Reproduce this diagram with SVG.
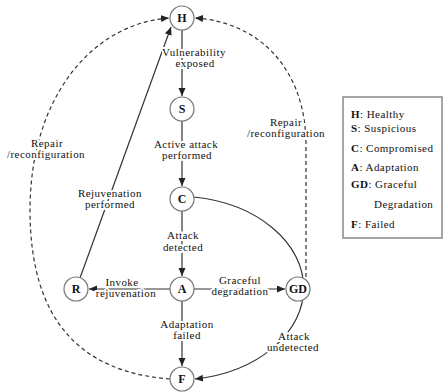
<svg xmlns="http://www.w3.org/2000/svg" width="444" height="392" viewBox="0 0 444 392" font-family="'Liberation Serif', 'Times New Roman', serif">
  <defs>
    <marker id="arrow" markerUnits="userSpaceOnUse" markerWidth="9" markerHeight="8" refX="8" refY="3.5" orient="auto">
      <path d="M0,0 L8,3.5 L0,7 z" fill="#222"/>
    </marker>
    <style>
      text { font-family: 'Liberation Serif', 'Times New Roman', serif; }
      .edge { fill: none; stroke: #333; stroke-width: 1.2; }
      .dash { stroke-dasharray: 4 3; }
      .node circle { fill: #fff; stroke: #777; stroke-width: 1.2; }
      .node text { font-size: 12px; font-weight: bold; text-anchor: middle; fill: #111; }
      .lbl { font-size: 11px; letter-spacing: 0.45px; text-anchor: middle; fill: #111; stroke: #fff; stroke-width: 4; stroke-linejoin: round; paint-order: stroke; }
      .legend text { font-size: 11px; letter-spacing: 0.45px; fill: #111; }
      .legend tspan.k { font-weight: bold; }
    </style>
  </defs>
  <rect width="444" height="392" fill="#fff"/>

  <!-- transitions -->
  <g id="connectors">
    <path class="edge" d="M182,30 L182,96" marker-end="url(#arrow)"/>
    <path class="edge" d="M182,121 L182,186" marker-end="url(#arrow)"/>
    <path class="edge" d="M182,211 L182,276" marker-end="url(#arrow)"/>
    <path class="edge" d="M182,301 L182,366" marker-end="url(#arrow)"/>
    <path class="edge" d="M170,289 L89,289" marker-end="url(#arrow)"/>
    <path class="edge" d="M194,289 L285,289" marker-end="url(#arrow)"/>
    <path class="edge" d="M80,278 L171,27" marker-end="url(#arrow)"/>
    <path class="edge dash" d="M170,379 C80,372 30,320 30,210 C30,100 90,24 169,18" marker-end="url(#arrow)"/>
    <path class="edge dash" d="M306,277 L306,145 C306,70 260,22 195,18" marker-end="url(#arrow)"/>
    <path class="edge" d="M194,197 A128 92 0 0 1 195,379" marker-end="url(#arrow)"/>

    <!-- transition labels -->
    <text class="lbl" x="194" y="56">Vulnerability</text>
    <text class="lbl" x="195" y="67">exposed</text>
    <text class="lbl" x="186" y="148">Active attack</text>
    <text class="lbl" x="187" y="159">performed</text>
    <text class="lbl" x="183" y="239">Attack</text>
    <text class="lbl" x="183" y="251">detected</text>
    <text class="lbl" x="187" y="328">Adaptation</text>
    <text class="lbl" x="187" y="339">failed</text>
    <text class="lbl" x="122" y="286">Invoke</text>
    <text class="lbl" x="126" y="297">rejuvenation</text>
    <text class="lbl" x="240" y="284">Graceful</text>
    <text class="lbl" x="240" y="295">degradation</text>
    <text class="lbl" x="110" y="197">Rejuvenation</text>
    <text class="lbl" x="110" y="208">performed</text>
    <text class="lbl" x="47" y="147">Repair</text>
    <text class="lbl" x="46" y="158">/reconfiguration</text>
    <text class="lbl" x="286" y="126">Repair</text>
    <text class="lbl" x="286" y="137">/reconfiguration</text>
    <text class="lbl" x="294" y="340">Attack</text>
    <text class="lbl" x="293" y="351">undetected</text>
  </g>

  <!-- states -->
  <g id="node-H" class="node"><circle cx="182" cy="18" r="12"/><text x="182" y="22">H</text></g>
  <g id="node-S" class="node"><circle cx="182" cy="109" r="12"/><text x="182" y="113">S</text></g>
  <g id="node-C" class="node"><circle cx="182" cy="199" r="12"/><text x="182" y="203">C</text></g>
  <g id="node-A" class="node"><circle cx="182" cy="289" r="12"/><text x="182" y="293">A</text></g>
  <g id="node-R" class="node"><circle cx="76" cy="289" r="12"/><text x="76" y="293">R</text></g>
  <g id="node-GD" class="node"><circle cx="298" cy="289" r="12"/><text x="298" y="293">GD</text></g>
  <g id="node-F" class="node"><circle cx="182" cy="379" r="12"/><text x="182" y="383">F</text></g>

  <!-- key -->
  <g id="legend" class="legend">
    <rect x="343" y="97" width="99" height="141" fill="#fff" stroke="#888" stroke-width="1.5"/>
    <text x="351" y="118"><tspan class="k">H</tspan>: Healthy</text>
    <text x="351" y="132"><tspan class="k">S</tspan>: Suspicious</text>
    <text x="351" y="152"><tspan class="k">C</tspan>: Compromised</text>
    <text x="351" y="171"><tspan class="k">A</tspan>: Adaptation</text>
    <text x="351" y="188"><tspan class="k">GD</tspan>: Graceful</text>
    <text x="374" y="208">Degradation</text>
    <text x="351" y="228"><tspan class="k">F</tspan>: Failed</text>
  </g>
</svg>
